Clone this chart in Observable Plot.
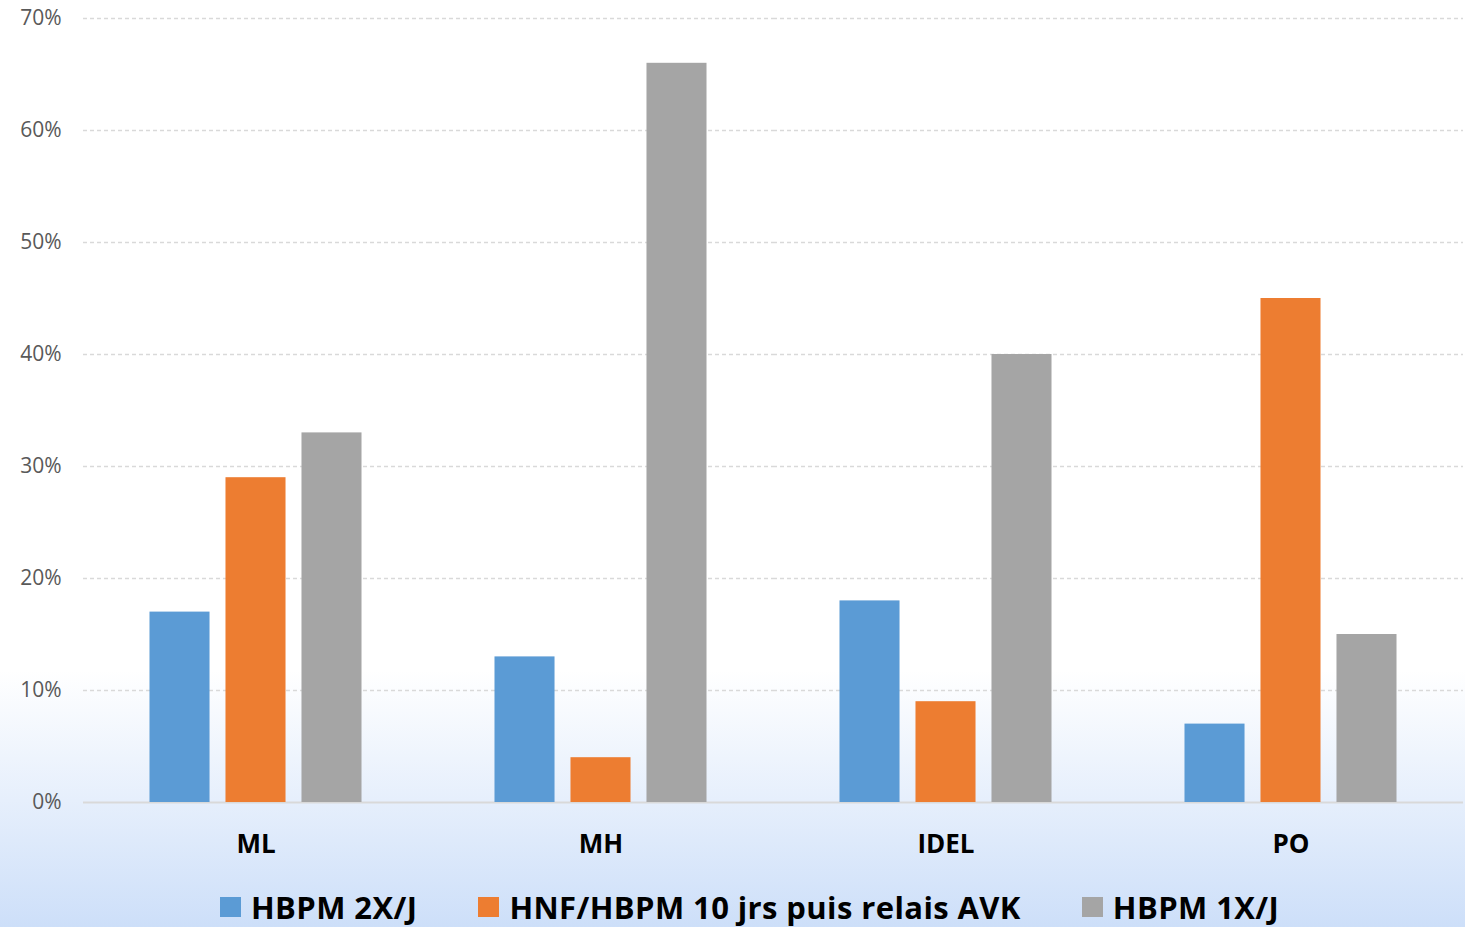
<!DOCTYPE html>
<html>
<head>
<meta charset="utf-8">
<script src="https://cdn.jsdelivr.net/npm/d3@7"></script>
<script src="https://cdn.jsdelivr.net/npm/@observablehq/plot@0.6"></script>
<style>
  html, body { margin: 0; padding: 0; }
  body {
    width: 1465px; height: 927px; overflow: hidden;
    background: linear-gradient(to bottom, #ffffff 0px, #ffffff 670px, #e6effc 800px, #cddff9 927px);
    font-family: "Open Sans", sans-serif;
  }
  #chart svg { display: block; background: transparent; }
  #legend {
    display: flex; align-items: center; padding-left: 220px; margin-top: 18px;
    font-weight: bold; font-size: 31px; letter-spacing: 0.4px; color: #000; white-space: nowrap;
    line-height: 38px;
  }
  .item { display: flex; align-items: center; margin-right: 61px; }
  .sw { width: 21px; height: 20px; margin-right: 10px; }
</style>
</head>
<body>
<div id="chart"></div>
<div id="legend"></div>
<script>
const categories = ["ML", "MH", "IDEL", "PO"];
const series = ["HBPM 2X/J", "HNF/HBPM 10 jrs puis relais AVK", "HBPM 1X/J"];
const colors = ["#5b9bd5", "#ed7d31", "#a5a5a5"];
const hbpm2x = [17, 13, 18, 7];
const hnf = [29, 4, 9, 45];
const hbpm1x = [33, 66, 40, 15];
const yTicks = [0, 10, 20, 30, 40, 50, 60, 70];

const valuesBySeries = [hbpm2x, hnf, hbpm1x];
const data = [];
categories.forEach((c, i) => {
  series.forEach((s, j) => data.push({cat: c, series: s, value: valuesBySeries[j][i] / 100}));
});

const chart = Plot.plot({
  width: 1465,
  height: 870,
  marginTop: 18,
  marginLeft: 82,
  marginRight: 2,
  marginBottom: 68,
  style: {fontFamily: "Open Sans, sans-serif", background: "transparent"},
  fx: {domain: categories, padding: 0, label: null},
  x: {domain: series, paddingInner: 0.21, paddingOuter: 0.875, round: false, axis: null},
  y: {domain: [0, 0.7], ticks: yTicks.map(d => d / 100), label: null},
  color: {domain: series, range: colors},
  marks: [
    Plot.gridY(yTicks.filter(d => d > 0).map(d => d / 100), {stroke: "#d9d9d9", strokeOpacity: 1, strokeWidth: 1.3, strokeDasharray: "4,3"}),
    Plot.ruleY([0], {stroke: "#d9d9d9", strokeWidth: 2}),
    Plot.barY(data, {fx: "cat", x: "series", y: "value", fill: "series"}),
    Plot.axisY(yTicks.map(d => d / 100), {tickFormat: d3.format(".0%"), tickSize: 0, tickPadding: 22, fontSize: 21, color: "#595959", label: null}),
    Plot.axisFx({anchor: "bottom", tickSize: 0, tickPadding: 32, fontSize: 26, fontWeight: "bold", color: "#000", label: null})
  ]
});
document.getElementById("chart").appendChild(chart);

const legend = document.getElementById("legend");
series.forEach((s, i) => {
  const item = document.createElement("div");
  item.className = "item";
  const sw = document.createElement("div");
  sw.className = "sw";
  sw.style.background = colors[i];
  const t = document.createElement("span");
  t.textContent = s;
  item.appendChild(sw);
  item.appendChild(t);
  legend.appendChild(item);
});
</script>
</body>
</html>
